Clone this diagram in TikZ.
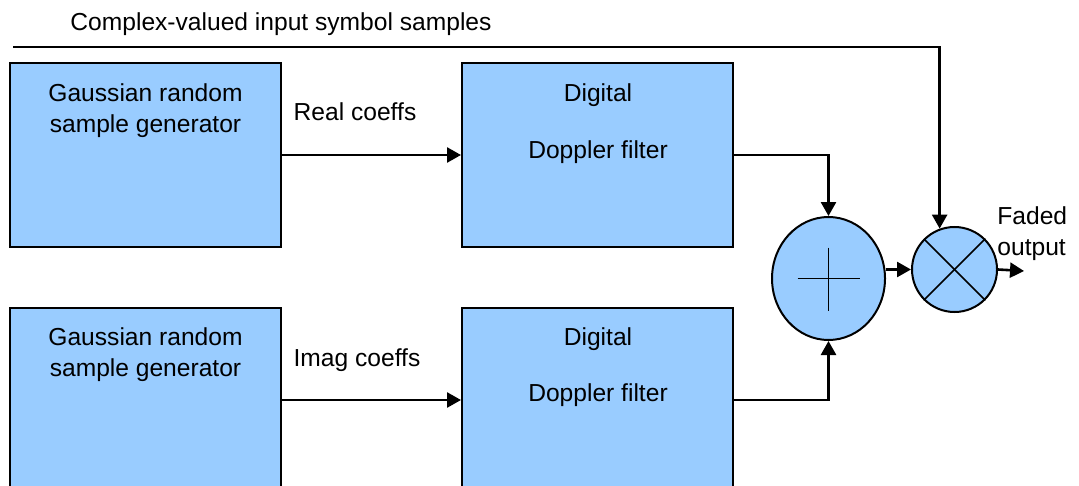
\documentclass[tikz,border=0pt]{standalone}
\usepackage{fontspec}
\setmainfont{Liberation Sans}
\usetikzlibrary{arrows.meta,shapes.geometric}
\definecolor{blockblue}{RGB}{153,204,255}

\tikzset{
  blk/.style={draw=black, fill=blockblue, line width=1pt, inner sep=0pt,
    minimum width=135.5pt, minimum height=92pt},
  txt/.style={font=\fontsize{12.3}{15.5}\selectfont, align=center, inner sep=0pt},
  sig/.style={line width=1.3pt, -{Triangle[length=7pt,width=7.5pt]}},
}

\begin{document}
\begin{tikzpicture}[x=0.5pt, y=-0.5pt]

  \useasboundingbox (0,0) rectangle (1079,486);
  \clip (0,0) rectangle (1079,486);

  % generators and filters
  \node[blk] (gen1) at (145.5,155) {};
  \node[blk] (gen2) at (145.5,400) {};
  \node[blk] (dop1) at (597.5,155) {};
  \node[blk] (dop2) at (597.5,400) {};
  \node[txt] (gen1txt) at (145.5,111) {Gaussian random\\sample generator};
  \node[txt] (gen2txt) at (145.5,355) {Gaussian random\\sample generator};
  \node[txt] (dop1a) at (598,95) {Digital};
  \node[txt] (dop1b) at (598,152) {Doppler filter};
  \node[txt] (dop2a) at (598,339) {Digital};
  \node[txt] (dop2b) at (598,395) {Doppler filter};

  % adder and multiplier
  \node[ellipse, draw, fill=blockblue, line width=1pt, minimum width=56.5pt, minimum height=61.5pt] (add) at (828.5,278.5) {};
  \draw[line width=0.8pt] (add.center) +(-31,0) -- +(31,0);
  \draw[line width=0.8pt] (add.center) +(0,-31) -- +(0,32);
  \node[circle, draw, fill=blockblue, line width=1pt, minimum size=42.5pt, inner sep=0pt] (mul) at (954.5,269.5) {};
  \draw[line width=0.8pt] (mul.north west) -- (mul.south east);
  \draw[line width=0.8pt] (mul.north east) -- (mul.south west);

  % labels
  \node[txt] (intxt) at (281,24) {Complex-valued input symbol samples};
  \node[txt] (realtxt) at (355,112) {Real coeffs};
  \node[txt] (imagtxt) at (357,360) {Imag coeffs};
  \node[txt, align=left, anchor=west] (outtxt) at (997,234) {Faded\\output};

  % signal paths
  \coordinate (in) at (13,47);
  \coordinate (out) at (1024,271);
  \draw[sig] (gen1.east) -- (dop1.west);
  \draw[sig] (gen2.east) -- (dop2.west);
  \draw[sig] (dop1.east) -| (add.north);
  \draw[sig] (dop2.east) -| (add.south);
  \draw[sig] (mul.west -| add.east) -- (mul.west);
  \draw[sig] (mul.east) -- (out);
  \draw[sig] (in) -| (mul.110);

\end{tikzpicture}
\end{document}
